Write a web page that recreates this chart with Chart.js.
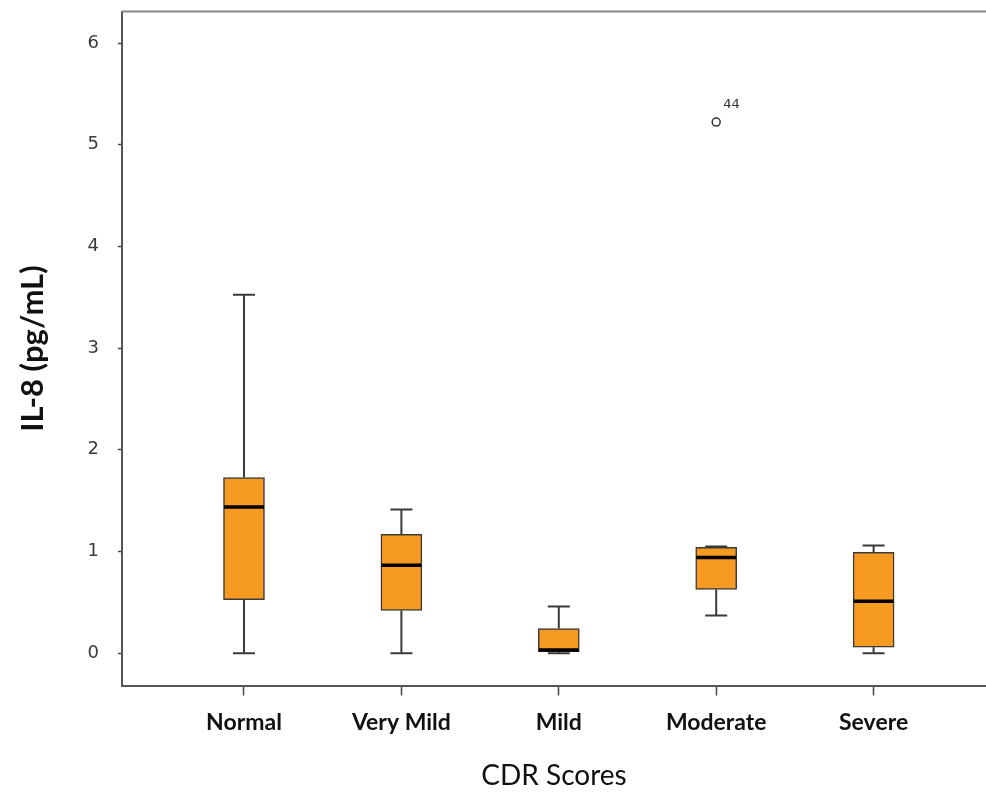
<!DOCTYPE html>
<html>
<head>
<meta charset="utf-8">
<script src="https://cdn.jsdelivr.net/npm/chart.js@4"></script>
<style>
html,body{margin:0;padding:0;background:#fff;overflow:hidden;}
#wrap{width:986px;height:794px;}
canvas{display:block;}
</style>
</head>
<body>
<div id="wrap"><canvas id="c" width="986" height="794"></canvas></div>
<script>
const categories = ['Normal', 'Very Mild', 'Mild', 'Moderate', 'Severe'];
const whiskerLow  = [0.00, 0.00, 0.00, 0.371, 0.00];
const q1          = [0.525, 0.420, 0.015, 0.627, 0.059];
const median      = [1.438, 0.864, 0.030, 0.940, 0.510];
const q3          = [1.727, 1.168, 0.243, 1.040, 0.991];
const whiskerHigh = [3.525, 1.414, 0.460, 1.050, 1.060];
const outlierCategory = ['Moderate'];
const outlierValue = [5.223];
const outlierLabel = ['44'];
const yTicks = [0, 1, 2, 3, 4, 5, 6];

const xOf = c => categories.indexOf(c) + 1;

const boxPlugin = {
  id: 'boxParts',
  beforeDatasetsDraw(chart) {
    const {ctx, scales: {x, y}} = chart;
    ctx.save();
    ctx.strokeStyle = '#3a3a3a';
    ctx.lineWidth = 2;
    categories.forEach((c, i) => {
      const px = x.getPixelForValue(i + 1);
      const cap = 11;
      ctx.beginPath();
      ctx.moveTo(px, y.getPixelForValue(whiskerLow[i]));
      ctx.lineTo(px, y.getPixelForValue(q1[i]));
      ctx.moveTo(px, y.getPixelForValue(q3[i]));
      ctx.lineTo(px, y.getPixelForValue(whiskerHigh[i]));
      ctx.moveTo(px - cap, y.getPixelForValue(whiskerLow[i]));
      ctx.lineTo(px + cap, y.getPixelForValue(whiskerLow[i]));
      ctx.moveTo(px - cap, y.getPixelForValue(whiskerHigh[i]));
      ctx.lineTo(px + cap, y.getPixelForValue(whiskerHigh[i]));
      ctx.stroke();
    });
    ctx.restore();
  },
  afterDatasetsDraw(chart) {
    const {ctx, scales: {x, y}, chartArea} = chart;
    ctx.save();
    ctx.strokeStyle = '#000';
    ctx.lineWidth = 3.5;
    categories.forEach((c, i) => {
      const px = x.getPixelForValue(i + 1);
      const py = y.getPixelForValue(median[i]);
      ctx.beginPath();
      ctx.moveTo(px - 20, py);
      ctx.lineTo(px + 20, py);
      ctx.stroke();
    });
    ctx.fillStyle = '#333';
    ctx.font = '13px "DejaVu Sans"';
    ctx.textAlign = 'left';
    ctx.textBaseline = 'middle';
    outlierCategory.forEach((c, i) => {
      const px = x.getPixelForValue(xOf(c));
      const py = y.getPixelForValue(outlierValue[i]);
      ctx.fillText(outlierLabel[i], px + 7, py - 17);
    });
    // top frame line
    ctx.strokeStyle = '#888';
    ctx.lineWidth = 2;
    ctx.beginPath();
    ctx.moveTo(chartArea.left, chartArea.top);
    ctx.lineTo(chartArea.right, chartArea.top);
    ctx.stroke();
    ctx.restore();
  }
};

new Chart(document.getElementById('c'), {
  type: 'bar',
  data: {
    datasets: [
      {
        type: 'bar',
        data: categories.map((c, i) => ({x: i + 1, y: [q1[i], q3[i]]})),
        backgroundColor: '#F79A21',
        borderColor: '#3a3a3a',
        borderWidth: 1.5,
        borderSkipped: false,
        barThickness: 41
      },
      {
        type: 'scatter',
        data: outlierCategory.map((c, i) => ({x: xOf(c), y: outlierValue[i]})),
        pointRadius: 4,
        pointBorderWidth: 1.5,
        borderColor: '#333',
        backgroundColor: '#fff',
        pointBackgroundColor: '#fff',
        pointBorderColor: '#333'
      }
    ]
  },
  options: {
    responsive: false,
    animation: false,
    layout: {autoPadding: false, padding: {top: 11.5, right: 0, left: 0, bottom: 0}},
    plugins: {legend: {display: false}, tooltip: {enabled: false}},
    scales: {
      x: {
        type: 'linear',
        offset: false,
        min: 0.225,
        max: 5.714,
        afterBuildTicks: s => { s.ticks = categories.map((c, i) => ({value: i + 1})); },
        afterFit: s => { s.height = 108.5; s.paddingLeft = 0; s.paddingRight = 0; },
        ticks: {
          callback: v => categories[Math.round(v) - 1],
          font: {family: 'Lato', weight: 'bold', size: 23},
          color: '#111',
          padding: 13,
          autoSkip: false,
          maxRotation: 0
        },
        grid: {drawOnChartArea: false, offset: false, tickLength: 10, color: '#444', tickWidth: 1.5},
        border: {color: '#555', width: 2},
        title: {display: true, text: 'CDR Scores', font: {family: 'Lato', size: 28}, color: '#111', padding: {top: 0, bottom: 1}}
      },
      y: {
        min: -0.318,
        max: 6.311,
        afterBuildTicks: s => { s.ticks = yTicks.map(v => ({value: v})); },
        afterFit: s => { s.width = 122; s.paddingTop = 0; s.paddingBottom = 0; },
        ticks: {
          font: {family: 'DejaVu Sans', size: 18},
          color: '#3a3a3a',
          padding: 19
        },
        grid: {drawOnChartArea: false, tickLength: 4, color: '#444', tickWidth: 1.5},
        border: {color: '#555', width: 2},
        title: {display: true, text: 'IL-8 (pg/mL)', font: {family: 'Lato', weight: 'bold', size: 31}, color: '#111', padding: {top: 14, bottom: 0}}
      }
    }
  },
  plugins: [boxPlugin]
});
</script>
</body>
</html>
